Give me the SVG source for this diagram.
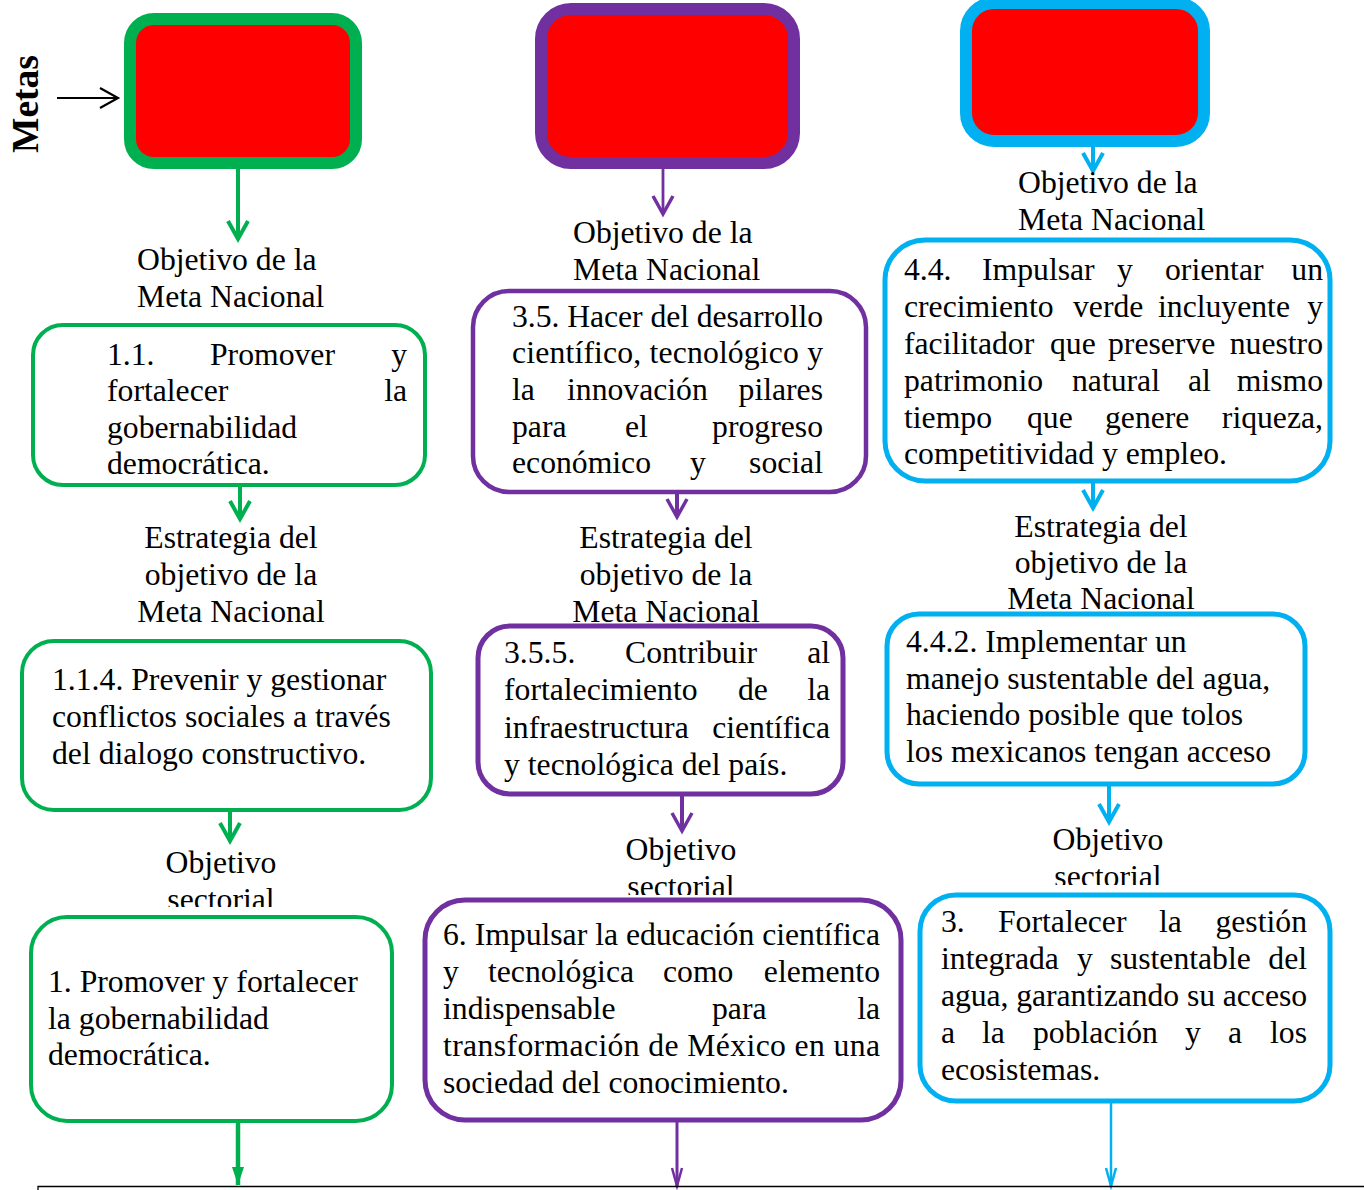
<svg xmlns="http://www.w3.org/2000/svg" width="1364" height="1190" viewBox="0 0 1364 1190">
<style>
  text { font-family: "Liberation Serif", "Times New Roman", serif; font-size: 31.7px; fill: #000; }
  .end { text-anchor: end; }
  .mid { text-anchor: middle; }
  .metas { font-weight: bold; font-size: 37.5px; }
  .meta { fill: #FF0000; stroke-width: 12; }
  .box { fill: #FFFFFF; }
  .g { stroke: #00B050; }
  .p { stroke: #7030A0; }
  .b { stroke: #00B0F0; }
  .conn { fill: none; stroke-linecap: butt; }
</style>
<defs>
  <marker id="kV" markerUnits="userSpaceOnUse" orient="auto" overflow="visible" refX="0" refY="0" markerWidth="1" markerHeight="1">
    <path d="M-18,-10 L0,0 L-18,10" fill="none" stroke="#000" stroke-width="2.2"/>
  </marker>
  <marker id="gV" markerUnits="userSpaceOnUse" orient="auto" overflow="visible" refX="0" refY="0" markerWidth="1" markerHeight="1">
    <path d="M-18,-10 L0,0 L-18,10" fill="none" stroke="#00B050" stroke-width="4"/>
  </marker>
  <marker id="pV" markerUnits="userSpaceOnUse" orient="auto" overflow="visible" refX="0" refY="0" markerWidth="1" markerHeight="1">
    <path d="M-18,-10 L0,0 L-18,10" fill="none" stroke="#7030A0" stroke-width="3.5"/>
  </marker>
  <marker id="bV" markerUnits="userSpaceOnUse" orient="auto" overflow="visible" refX="0" refY="0" markerWidth="1" markerHeight="1">
    <path d="M-18,-10 L0,0 L-18,10" fill="none" stroke="#00B0F0" stroke-width="4"/>
  </marker>
  <marker id="gTri" markerUnits="userSpaceOnUse" orient="auto" overflow="visible" refX="0" refY="0" markerWidth="1" markerHeight="1">
    <path d="M-18,-6 L0,0 L-18,6 Z" fill="#00B050" stroke="none"/>
  </marker>
  <marker id="pN" markerUnits="userSpaceOnUse" orient="auto" overflow="visible" refX="0" refY="0" markerWidth="1" markerHeight="1">
    <path d="M-18,-5 L0,0 L-18,5" fill="none" stroke="#7030A0" stroke-width="2.5"/>
  </marker>
  <marker id="bN" markerUnits="userSpaceOnUse" orient="auto" overflow="visible" refX="0" refY="0" markerWidth="1" markerHeight="1">
    <path d="M-18,-5 L0,0 L-18,5" fill="none" stroke="#00B0F0" stroke-width="2.5"/>
  </marker>
  <clipPath id="clipG"><rect x="100" y="840" width="260" height="67"/></clipPath>
  <clipPath id="clipP"><rect x="560" y="825" width="260" height="70"/></clipPath>
  <clipPath id="clipB"><rect x="990" y="815" width="260" height="70"/></clipPath>
</defs>

<rect x="0" y="0" width="1364" height="1190" fill="#FFFFFF"/>

<g id="connectors">
  <path class="conn" d="M57,98 H118" stroke="#000" stroke-width="2.2" marker-end="url(#kV)"/>
  <path class="conn g" d="M238,169 V239" stroke-width="4" marker-end="url(#gV)"/>
  <path class="conn g" d="M240,487 V519" stroke-width="4" marker-end="url(#gV)"/>
  <path class="conn g" d="M230,811 V841" stroke-width="4" marker-end="url(#gV)"/>
  <path class="conn g" d="M238,1122 V1185" stroke-width="4.5" marker-end="url(#gTri)"/>
  <path class="conn p" d="M663,169 V214" stroke-width="2.8" marker-end="url(#pV)"/>
  <path class="conn p" d="M677,493 V517" stroke-width="4" marker-end="url(#pV)"/>
  <path class="conn p" d="M682,795 V831" stroke-width="4" marker-end="url(#pV)"/>
  <path class="conn p" d="M677,1121 V1186" stroke-width="3" marker-end="url(#pN)"/>
  <path class="conn b" d="M1093,147 V171" stroke-width="4" marker-end="url(#bV)"/>
  <path class="conn b" d="M1093,482 V508" stroke-width="4" marker-end="url(#bV)"/>
  <path class="conn b" d="M1109,786 V822" stroke-width="4" marker-end="url(#bV)"/>
  <path class="conn b" d="M1111,1103 V1186" stroke-width="2.5" marker-end="url(#bN)"/>
  <path d="M38,1190 V1186.5 H1364" fill="none" stroke="#000" stroke-width="1.3"/>
</g>

<g id="metas-label">
  <text class="metas mid" transform="translate(38,104) rotate(-90)" x="0" y="0">Metas</text>
</g>

<!-- Green column -->
<g id="meta1"><rect class="meta g" x="130" y="19" width="226" height="144" rx="24"/></g>
<g id="label-g1">
  <text x="137" y="270">Objetivo de la</text>
  <text x="137" y="307">Meta Nacional</text>
</g>
<g id="label-g2">
  <text class="mid" x="231" y="548">Estrategia del</text>
  <text class="mid" x="231" y="585">objetivo de la</text>
  <text class="mid" x="231" y="622">Meta Nacional</text>
</g>
<g id="label-g3">
  <text class="mid" x="221" y="873">Objetivo</text>
  <text class="mid" x="221" y="910" clip-path="url(#clipG)">sectorial</text>
</g>
<g id="obj-1-1">
  <rect class="box g" x="33" y="325" width="392" height="160" rx="30" stroke-width="4"/>
  <text x="107" y="365">1.1.</text><text x="210" y="365">Promover</text><text class="end" x="407" y="365">y</text>
  <text x="107" y="401">fortalecer</text><text class="end" x="407" y="401">la</text>
  <text x="107" y="438">gobernabilidad</text>
  <text x="107" y="474">democrática.</text>
</g>
<g id="est-1-1-4">
  <rect class="box g" x="22" y="641" width="409" height="169" rx="32" stroke-width="4"/>
  <text x="52" y="690">1.1.4. Prevenir y gestionar</text>
  <text x="52" y="727">conflictos sociales a través</text>
  <text x="52" y="764">del dialogo constructivo.</text>
</g>
<g id="sect-1">
  <rect class="box g" x="31" y="917" width="361" height="204" rx="36" stroke-width="4"/>
  <text x="48" y="992">1. Promover y fortalecer</text>
  <text x="48" y="1029">la gobernabilidad</text>
  <text x="48" y="1065">democrática.</text>
</g>

<!-- Purple column -->
<g id="meta3"><rect class="meta p" x="541" y="9" width="253" height="154" rx="30"/></g>
<g id="label-p1">
  <text x="573" y="243">Objetivo de la</text>
  <text x="573" y="280">Meta Nacional</text>
</g>
<g id="label-p2">
  <text class="mid" x="666" y="548">Estrategia del</text>
  <text class="mid" x="666" y="585">objetivo de la</text>
  <text class="mid" x="666" y="622">Meta Nacional</text>
</g>
<g id="label-p3">
  <text class="mid" x="681" y="860">Objetivo</text>
  <text class="mid" x="681" y="897" clip-path="url(#clipP)">sectorial</text>
</g>
<g id="obj-3-5">
  <rect class="box p" x="473" y="291" width="393" height="201" rx="36" stroke-width="4.5"/>
  <text x="512" y="327" textLength="311" lengthAdjust="spacing">3.5. Hacer del desarrollo</text>
  <text x="512" y="363" textLength="311" lengthAdjust="spacing">científico, tecnológico y</text>
  <text x="512" y="400">la</text><text x="567" y="400">innovación</text><text class="end" x="823" y="400">pilares</text>
  <text x="512" y="437">para</text><text x="625" y="437">el</text><text class="end" x="823" y="437">progreso</text>
  <text x="512" y="473">económico</text><text x="690" y="473">y</text><text class="end" x="823" y="473">social</text>
</g>
<g id="est-3-5-5">
  <rect class="box p" x="478" y="626" width="365" height="168" rx="32" stroke-width="5"/>
  <text x="504" y="663">3.5.5.</text><text x="625" y="663">Contribuir</text><text class="end" x="830" y="663">al</text>
  <text x="504" y="700">fortalecimiento</text><text x="738" y="700">de</text><text class="end" x="830" y="700">la</text>
  <text x="504" y="738">infraestructura</text><text class="end" x="830" y="738">científica</text>
  <text x="504" y="775">y tecnológica del país.</text>
</g>
<g id="sect-6">
  <rect class="box p" x="425" y="900" width="476" height="220" rx="40" stroke-width="5"/>
  <text x="443" y="945" textLength="437" lengthAdjust="spacing">6. Impulsar la educación científica</text>
  <text x="443" y="982">y</text><text x="488" y="982">tecnológica</text><text x="663" y="982">como</text><text class="end" x="880" y="982">elemento</text>
  <text x="443" y="1019">indispensable</text><text x="712" y="1019">para</text><text class="end" x="880" y="1019">la</text>
  <text x="443" y="1056" textLength="437" lengthAdjust="spacing">transformación de México en una</text>
  <text x="443" y="1093">sociedad del conocimiento.</text>
</g>

<!-- Blue column -->
<g id="meta4"><rect class="meta b" x="966" y="3" width="238" height="138" rx="28"/></g>
<g id="label-b1">
  <text x="1018" y="193">Objetivo de la</text>
  <text x="1018" y="230">Meta Nacional</text>
</g>
<g id="label-b2">
  <text class="mid" x="1101" y="537">Estrategia del</text>
  <text class="mid" x="1101" y="573">objetivo de la</text>
  <text class="mid" x="1101" y="609">Meta Nacional</text>
</g>
<g id="label-b3">
  <text class="mid" x="1108" y="850">Objetivo</text>
  <text class="mid" x="1108" y="887" clip-path="url(#clipB)">sectorial</text>
</g>
<g id="obj-4-4">
  <rect class="box b" x="885" y="240" width="445" height="241" rx="40" stroke-width="5"/>
  <text x="904" y="280">4.4.</text><text x="982" y="280">Impulsar</text><text x="1117" y="280">y</text><text x="1165" y="280">orientar</text><text class="end" x="1323" y="280">un</text>
  <text x="904" y="317">crecimiento</text><text x="1073" y="317">verde</text><text x="1158" y="317">incluyente</text><text class="end" x="1323" y="317">y</text>
  <text x="904" y="354">facilitador</text><text x="1050" y="354">que</text><text x="1108" y="354">preserve</text><text class="end" x="1323" y="354">nuestro</text>
  <text x="904" y="391">patrimonio</text><text x="1072" y="391">natural</text><text x="1188" y="391">al</text><text class="end" x="1323" y="391">mismo</text>
  <text x="904" y="428">tiempo</text><text x="1027" y="428">que</text><text x="1105" y="428">genere</text><text class="end" x="1323" y="428">riqueza,</text>
  <text x="904" y="464">competitividad y empleo.</text>
</g>
<g id="est-4-4-2">
  <rect class="box b" x="887" y="614" width="418" height="170" rx="32" stroke-width="5"/>
  <text x="906" y="652">4.4.2. Implementar un</text>
  <text x="906" y="689">manejo sustentable del agua,</text>
  <text x="906" y="725">haciendo posible que tolos</text>
  <text x="906" y="762">los mexicanos tengan acceso</text>
</g>
<g id="sect-3">
  <rect class="box b" x="920" y="895" width="410" height="206" rx="36" stroke-width="5"/>
  <text x="941" y="932">3.</text><text x="998" y="932">Fortalecer</text><text x="1159" y="932">la</text><text class="end" x="1307" y="932">gestión</text>
  <text x="941" y="969">integrada</text><text x="1077" y="969">y</text><text x="1110" y="969">sustentable</text><text class="end" x="1307" y="969">del</text>
  <text x="941" y="1006" textLength="366" lengthAdjust="spacing">agua, garantizando su acceso</text>
  <text x="941" y="1043">a</text><text x="982" y="1043">la</text><text x="1033" y="1043">población</text><text x="1185" y="1043">y</text><text x="1228" y="1043">a</text><text class="end" x="1307" y="1043">los</text>
  <text x="941" y="1080">ecosistemas.</text>
</g>
</svg>
